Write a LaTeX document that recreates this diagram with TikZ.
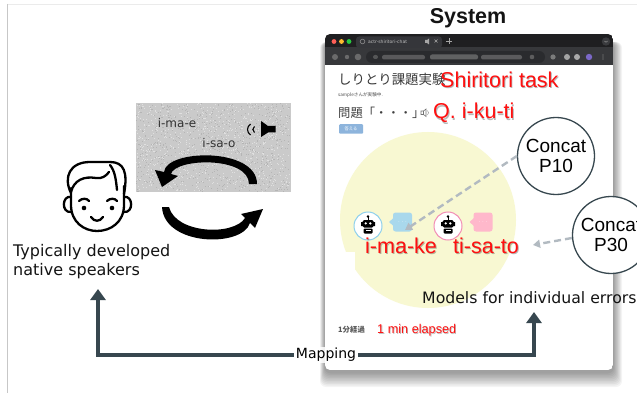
\documentclass[tikz,border=0pt]{standalone}
\usepackage{fontspec}
\setmainfont{DejaVu Sans}
\newfontfamily\arialf{Liberation Sans}
\newfontfamily\jpf{Noto Sans CJK JP}
\usetikzlibrary{arrows.meta}

\definecolor{slate}{HTML}{37474F}
\definecolor{dashgray}{HTML}{B2BAC1}
\definecolor{alertred}{HTML}{FF1010}
\definecolor{paleyellow}{HTML}{F8F8D2}
\definecolor{noisebg}{HTML}{CACACA}
\definecolor{tabbar}{HTML}{1F1F21}
\definecolor{toolbarc}{HTML}{37383B}
\definecolor{omnibox}{HTML}{2A2B2E}
\definecolor{activetab}{HTML}{35363A}
\definecolor{menubtn}{HTML}{3A3B3E}
\definecolor{profile}{HTML}{7B68C8}
\definecolor{lightred}{HTML}{FF5F57}
\definecolor{lightyellow}{HTML}{FEBC2E}
\definecolor{lightgreen}{HTML}{28C840}
\definecolor{bubbleblue}{HTML}{A9D8EC}
\definecolor{bubblepink}{HTML}{FFB8CB}
\definecolor{ringblue}{HTML}{8ED0EC}
\definecolor{ringpink}{HTML}{F28DB5}
\definecolor{btnblue}{HTML}{8DB4DC}
\definecolor{inkgray}{HTML}{333333}

\tikzset{
  redtext/.style={text=alertred, font=\arialf\fontsize{21.5}{24}\selectfont, inner sep=0pt, anchor=west},
  redshadow/.style={redtext, text=black, text opacity=0.28},
  plaintext/.style={inner sep=0pt, text=black!92},
  concat/.style={circle, draw=slate, line width=1.3pt, fill=white, minimum size=77pt, inner sep=0pt,
    align=center, font=\arialf\fontsize{19}{20}\selectfont},
  dasharrow/.style={dashgray, line width=2.4pt, dash pattern=on 7pt off 4pt,
    -{Triangle[length=7pt,width=8pt]}},
  maparrow/.style={slate, line width=4.3pt, -{Triangle[length=11pt,width=15pt]}},
  faceline/.style={line width=2.3pt, line cap=round, line join=round},
  bubble/.style={rounded corners=2.5pt, minimum width=19pt, minimum height=19pt, inner sep=0pt,
    font=\fontsize{6}{6}\selectfont, text=white},
}

% red caption with a soft drop shadow underneath
\newcommand\redlabel[3]{%
  \node[redshadow, xshift=0.9pt, yshift=-1.3pt] (#1-sh) at (#2) {#3};
  \node[redtext] (#1) at (#2) {#3};}

% small robot avatar
\newcommand\robotface[2]{%
  \draw[#2, line width=1pt, fill=white] (#1) circle (14);
  \begin{scope}[shift={(#1)}]
    \fill[black] (0,-9.5) circle (1.3);
    \draw[black, line width=0.9pt] (0,-9) -- (0,-6);
    \fill[black, rounded corners=1.5pt] (-5.5,-6) rectangle (5.5,1.5);
    \fill[black] (-7,-4) rectangle (-5,0) (5,-4) rectangle (7,0);
    \fill[white] (-2.3,-2.6) circle (1.3) (2.3,-2.6) circle (1.3);
    \fill[black, rounded corners=1pt] (-4.5,2.5) rectangle (4.5,7.5);
    \fill[white] (-2.5,4.3) rectangle (2.5,5.3);
  \end{scope}}

\begin{document}
\begin{tikzpicture}[x=1pt,y=-1pt]
\useasboundingbox (0,0) rectangle (637,393);
\fill[white] (0,0) rectangle (637,393);

% slide frame
\draw[black!8, line width=0.8pt] (7,4) -- (637,4);
\draw[black!22, line width=1pt] (7,4) -- (7,393);

% ---------- left part: grainy speech panel ----------
\fill[noisebg] (136,103) rectangle (291,192);
\pgfmathsetseed{11}
\foreach \i in {1,...,800}{\fill[black!29] ({136+154*rnd},{103+88*rnd}) rectangle ++(1,1);}
\foreach \i in {1,...,800}{\fill[black!12] ({136+154*rnd},{103+88*rnd}) rectangle ++(1,1);}

\node[plaintext, text=inkgray, font=\fontsize{12}{12}\selectfont] (ime) at (177,123) {i-ma-e};
\node[plaintext, text=inkgray, font=\fontsize{12}{12}\selectfont] (isao) at (219,143) {i-sa-o};

% loudspeaker
\fill[black] (261,121) -- (268,126) -- (275.5,126) -- (275.5,132.5) -- (268,132.5) -- (261,137) -- cycle;
\draw[black, line width=1.1pt] (250.5,124) .. controls (246.5,127) and (246.5,132) .. (250.5,135);
\draw[black, line width=1.1pt] (254.5,126.5) .. controls (252.3,128) and (252.3,131) .. (254.5,132.5);

% turn-taking arrows
\fill[black] (257,184) .. controls (257,147) and (166,149) .. (164,172) -- (155,170) -- (162,187)
  -- (178,176) -- (171,174) .. controls (175,158) and (249,156) .. (249,184) -- cycle;
\fill[black] (162,207) .. controls (164,246) and (242,248) .. (250,223) -- (255,228) -- (263,209)
  -- (241,214) -- (245,218) .. controls (234,236) and (176,234) .. (169,207) -- cycle;

% person icon
\begin{scope}[faceline]
  \draw (71,188) -- (71,205) .. controls (71,222) and (84,231) .. (97,231)
        .. controls (111,231) and (124,222) .. (124,205) -- (124,186);
  \draw (71,197) .. controls (62,195) and (61,213) .. (71,212);
  \draw (124,197) .. controls (133,195) and (134,213) .. (124,212);
  \draw (71,193) .. controls (63,177) and (70,162) .. (90,162) -- (110,162)
        .. controls (124,162) and (128,172) .. (124,194);
  \draw (71,192) .. controls (74,180) and (84,176) .. (96,178)
        .. controls (102,179) and (106,176) .. (109,172);
  \draw (110,165) .. controls (115,171) and (116,180) .. (117,190);
  \draw (79,201) .. controls (82,198) and (87,198) .. (89,201);
  \draw (107,201) .. controls (110,198) and (115,198) .. (117,201);
  \draw (91,217) .. controls (94,222) and (100,222) .. (103,217);
\end{scope}
\fill (84,208) circle (2.3) (112,208) circle (2.3);

\node[plaintext, anchor=west, align=left, font=\fontsize{16}{19}\selectfont] (people) at (13,261.5)
  {Typically developed\\native speakers};

% ---------- right part: system window ----------
\node[plaintext, font=\arialf\bfseries\fontsize{21.5}{22}\selectfont] (system) at (468,18) {System};

% window shadow
\foreach \k in {1,...,10}{
  \fill[black, opacity=0.045, rounded corners=6pt] (325-0.5*\k,42) rectangle (613+0.9*\k,372+1.5*\k);}

\begin{scope}
  \clip[rounded corners=5pt] (325,34) rectangle (613,370);
  \fill[white] (325,34) rectangle (613,370);
  \fill[tabbar] (325,34) rectangle (613,47);
  \fill[toolbarc] (325,47) rectangle (613,65);
\end{scope}

% title bar
\fill[lightred] (334,41.5) circle (2.4);
\fill[lightyellow] (341.5,41.5) circle (2.4);
\fill[lightgreen] (349,41.5) circle (2.4);
\fill[activetab, rounded corners=3pt] (356,36.5) rectangle (442,48);
\draw[black!45, line width=0.6pt] (362.5,41.5) circle (2.3);
\node[inner sep=0pt, anchor=west, text=black!25, font=\fontsize{4.5}{5}\selectfont] (tabtitle) at (368,41.5) {actr-shiritori-chat};
\fill[black!35] (425,40) rectangle (427,43) (427,40) -- (429,38.5) -- (429,44.5) -- (427,43) -- cycle;
\draw[black!35, line width=0.6pt] (434.5,39.5) -- (437.5,42.5) (437.5,39.5) -- (434.5,42.5);
\draw[black!35, line width=0.6pt] (446,41.5) -- (452,41.5) (449,38.5) -- (449,44.5);
\fill[menubtn] (606,41.5) circle (4.2);
\draw[black!40, line width=0.5pt] (604.5,41) -- (606,42.3) -- (607.5,41);

% blurred toolbar
\fill[black!50, opacity=0.7] (335,57) circle (3) (347,57) circle (2.2) (358,57) circle (3.3);
\fill[omnibox, rounded corners=6pt] (366,51) rectangle (545,63);
\fill[black!55, opacity=0.6, rounded corners=2pt] (373,55) rectangle (378,59);
\fill[black!50, opacity=0.55, rounded corners=2pt] (382,55) rectangle (425,59.5);
\fill[black!48, opacity=0.6, rounded corners=2pt] (430,54.5) rectangle (478,59.5);
\fill[black!45, opacity=0.5, rounded corners=2pt] (481,55) rectangle (522,59.5);
\fill[black!55, opacity=0.7] (532,57) circle (2.3);
\fill[black!40, opacity=0.7] (553,57) circle (2.6);
\fill[black!25, opacity=0.8] (567,57) circle (3);
\fill[black!22, opacity=0.8] (577,57) circle (3);
\fill[profile] (589,57) circle (3.2);
\fill[black!45] (603,55) circle (0.6) (603,57) circle (0.6) (603,59) circle (0.6);

% page content
\node[inner sep=0pt, anchor=west, text=black!78, font=\jpf\fontsize{13.4}{14}\selectfont] (jtitle) at (338,79.5) {しりとり課題実験};
\node[inner sep=0pt, anchor=west, text=black!70, font=\jpf\fontsize{4.6}{5}\selectfont] (jsub) at (338,95) {sampleさんが実験中.};
\node[inner sep=0pt, anchor=west, text=black!75, font=\jpf\fontsize{12.3}{13}\selectfont] (jq) at (338,112.5) {問題「・・・」};
\draw[black!55, line width=0.6pt] (421,111) rectangle (423.5,114.5) (423.5,111) -- (426,109) -- (426,116.5) -- (423.5,114.5);
\draw[black!45, line width=0.5pt] (427.5,110.5) .. controls (428.8,111.8) and (428.8,113.8) .. (427.5,115);
\node[fill=btnblue, rounded corners=1pt, minimum width=24pt, minimum height=9.5pt, inner sep=0pt,
  text=white, font=\jpf\fontsize{4.3}{5}\selectfont] (answer) at (351,129) {答える};

\redlabel{shiri}{440,79.5}{Shiritori task}
\redlabel{qtext}{433,113}{Q. i-ku-ti}

% chat area
\fill[paleyellow] (428,220) circle (88);
\fill[white] (336,252) rectangle (355,280);

\robotface{368,226}{ringblue}
\robotface{448,226}{ringpink}
\node[bubble, fill=bubbleblue] (bub1) at (402.5,222) {$\cdots$};
\fill[bubbleblue] (393.5,218) -- (389,222) -- (393.5,226) -- cycle;
\node[bubble, fill=bubblepink] (bub2) at (483,222) {$\cdots$};
\fill[bubblepink] (474,218) -- (469.5,222) -- (474,226) -- cycle;

\redlabel{imake}{365,246}{i-ma-ke}
\redlabel{tisato}{453,246}{ti-sa-to}

\node[plaintext, anchor=west, font=\fontsize{15.7}{17}\selectfont] (models) at (422,298) {Models for individual errors};

\node[inner sep=0pt, anchor=west, text=black!65, font=\jpf\bfseries\fontsize{7.4}{8}\selectfont] (elapsedjp) at (338,330) {1分経過};
\node[inner sep=0pt, anchor=west, text=black, text opacity=0.25, font=\arialf\fontsize{12.7}{13}\selectfont, xshift=0.8pt, yshift=-1pt] (elapsed-sh) at (377,330) {1 min elapsed};
\node[inner sep=0pt, anchor=west, text=alertred, font=\arialf\fontsize{12.7}{13}\selectfont] (elapsed) at (377,330) {1 min elapsed};

% error models and their links into the chat
\node[concat] (p10) at (556,156) {Concat\\P10};
\node[concat] (p30) at (611,235) {Concat\\P30};
\coordinate (p30end) at (533,245);
\draw[dasharrow, shorten >=3pt] (p10.west) -- (bub1.south);
\draw[dasharrow] ([yshift=-3pt]p30.west) -- (p30end);

% mapping between speakers and models
\node[fill=white, fill opacity=0.85, text opacity=1, inner xsep=2pt, inner ysep=1.5pt,
  font=\fontsize{14}{16}\selectfont] (map) at (326,355) {Mapping};
\coordinate (lefttip) at (98,289);
\coordinate (righttip) at (534,312);
\draw[maparrow] (map.west) -| (lefttip);
\draw[maparrow] (map.east) -| (righttip);
\end{tikzpicture}
\end{document}
